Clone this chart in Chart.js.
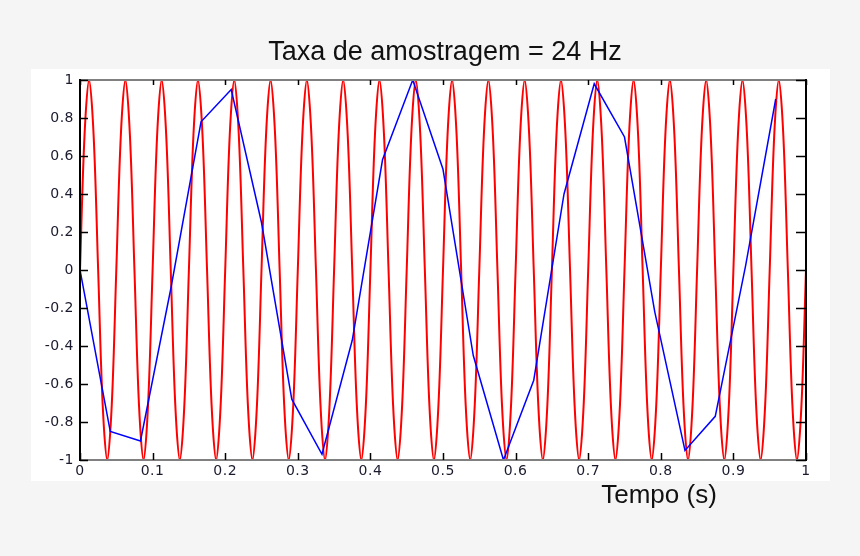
<!DOCTYPE html>
<html>
<head>
<meta charset="utf-8">
<script src="https://cdn.jsdelivr.net/npm/chart.js@4/dist/chart.umd.min.js"></script>
<style>
  html, body { margin: 0; padding: 0; background: #f5f5f5; }
  #wrap { width: 860px; height: 556px; }
</style>
</head>
<body>
<div id="wrap"><canvas id="myChart" width="860" height="556"></canvas></div>
<script>
'use strict'

// texts
const titleText = 'Taxa de amostragem = 24 Hz';
const xTitle = 'Tempo (s)';

// tick labels
const xTicks = [0, 0.1, 0.2, 0.3, 0.4, 0.5, 0.6, 0.7, 0.8, 0.9, 1];
const yTicks = [-1, -0.8, -0.6, -0.4, -0.2, 0, 0.2, 0.4, 0.6, 0.8, 1];

const blueT = [0, 0.0417, 0.0833, 0.125, 0.1667, 0.2083, 0.25, 0.2917,
  0.3333, 0.375, 0.4167, 0.4583, 0.5, 0.5417, 0.5833, 0.625,
  0.6667, 0.7083, 0.75, 0.7917, 0.8333, 0.875, 0.9167, 0.9583];
const blueV = [0, -0.85, -0.9, -0.1, 0.78, 0.95, 0.25, -0.68,
  -0.97, -0.37, 0.58, 1.0, 0.53, -0.45, -1.0, -0.58,
  0.4, 0.98, 0.7, -0.22, -0.95, -0.77, 0.02, 0.9];

// original signal (red), read every 1/8 of a cycle
const redT = [
  0, 0.00625, 0.0125, 0.01875, 0.025, 0.03125, 0.0375, 0.04375,
  0.05, 0.05625, 0.0625, 0.06875, 0.075, 0.08125, 0.0875, 0.09375,
  0.1, 0.10625, 0.1125, 0.11875, 0.125, 0.13125, 0.1375, 0.14375,
  0.15, 0.15625, 0.1625, 0.16875, 0.175, 0.18125, 0.1875, 0.19375,
  0.2, 0.20625, 0.2125, 0.21875, 0.225, 0.23125, 0.2375, 0.24375,
  0.25, 0.25625, 0.2625, 0.26875, 0.275, 0.28125, 0.2875, 0.29375,
  0.3, 0.30625, 0.3125, 0.31875, 0.325, 0.33125, 0.3375, 0.34375,
  0.35, 0.35625, 0.3625, 0.36875, 0.375, 0.38125, 0.3875, 0.39375,
  0.4, 0.40625, 0.4125, 0.41875, 0.425, 0.43125, 0.4375, 0.44375,
  0.45, 0.45625, 0.4625, 0.46875, 0.475, 0.48125, 0.4875, 0.49375,
  0.5, 0.50625, 0.5125, 0.51875, 0.525, 0.53125, 0.5375, 0.54375,
  0.55, 0.55625, 0.5625, 0.56875, 0.575, 0.58125, 0.5875, 0.59375,
  0.6, 0.60625, 0.6125, 0.61875, 0.625, 0.63125, 0.6375, 0.64375,
  0.65, 0.65625, 0.6625, 0.66875, 0.675, 0.68125, 0.6875, 0.69375,
  0.7, 0.70625, 0.7125, 0.71875, 0.725, 0.73125, 0.7375, 0.74375,
  0.75, 0.75625, 0.7625, 0.76875, 0.775, 0.78125, 0.7875, 0.79375,
  0.8, 0.80625, 0.8125, 0.81875, 0.825, 0.83125, 0.8375, 0.84375,
  0.85, 0.85625, 0.8625, 0.86875, 0.875, 0.88125, 0.8875, 0.89375,
  0.9, 0.90625, 0.9125, 0.91875, 0.925, 0.93125, 0.9375, 0.94375,
  0.95, 0.95625, 0.9625, 0.96875, 0.975, 0.98125, 0.9875, 0.99375,
  1
];
const redV = [
  0, 0.71, 1, 0.71, 0, -0.71, -1, -0.71,
  0, 0.71, 1, 0.71, 0, -0.71, -1, -0.71,
  0, 0.71, 1, 0.71, 0, -0.71, -1, -0.71,
  0, 0.71, 1, 0.71, 0, -0.71, -1, -0.71,
  0, 0.71, 1, 0.71, 0, -0.71, -1, -0.71,
  0, 0.71, 1, 0.71, 0, -0.71, -1, -0.71,
  0, 0.71, 1, 0.71, 0, -0.71, -1, -0.71,
  0, 0.71, 1, 0.71, 0, -0.71, -1, -0.71,
  0, 0.71, 1, 0.71, 0, -0.71, -1, -0.71,
  0, 0.71, 1, 0.71, 0, -0.71, -1, -0.71,
  0, 0.71, 1, 0.71, 0, -0.71, -1, -0.71,
  0, 0.71, 1, 0.71, 0, -0.71, -1, -0.71,
  0, 0.71, 1, 0.71, 0, -0.71, -1, -0.71,
  0, 0.71, 1, 0.71, 0, -0.71, -1, -0.71,
  0, 0.71, 1, 0.71, 0, -0.71, -1, -0.71,
  0, 0.71, 1, 0.71, 0, -0.71, -1, -0.71,
  0, 0.71, 1, 0.71, 0, -0.71, -1, -0.71,
  0, 0.71, 1, 0.71, 0, -0.71, -1, -0.71,
  0, 0.71, 1, 0.71, 0, -0.71, -1, -0.71,
  0, 0.71, 1, 0.71, 0, -0.71, -1, -0.71,
  0
];

const toPoints = (ts, vs) => ts.map((t, i) => ({ x: t, y: vs[i] }));

const FONT = "'Liberation Sans', Arial, sans-serif";
const TICKFONT = "'DejaVu Sans', sans-serif";

// white figure panel, frame, inward ticks, titles
const decor = {
  id: 'decor',
  beforeDraw(chart) {
    const ctx = chart.ctx;
    ctx.save();
    ctx.fillStyle = '#f5f5f5';
    ctx.fillRect(0, 0, chart.width, chart.height);
    ctx.fillStyle = '#ffffff';
    ctx.fillRect(31, 69, 799, 412);
    ctx.restore();
    ctx.letterSpacing = '0.5px';
  },
  afterDatasetsDraw(chart) {
    const ctx = chart.ctx;
    const a = chart.chartArea;
    const xs = chart.scales.x, ys = chart.scales.y;
    ctx.save();
    ctx.lineWidth = 2;
    ctx.strokeStyle = '#808080';
    ctx.beginPath();
    ctx.moveTo(a.left, a.top); ctx.lineTo(a.right, a.top);
    ctx.moveTo(a.left, a.bottom); ctx.lineTo(a.right, a.bottom);
    ctx.stroke();
    ctx.strokeStyle = '#000000';
    ctx.beginPath();
    ctx.moveTo(a.left, a.top - 1); ctx.lineTo(a.left, a.bottom + 1);
    ctx.moveTo(a.right, a.top - 1); ctx.lineTo(a.right, a.bottom + 1);
    ctx.stroke();
    ctx.lineWidth = 1.5;
    ctx.beginPath();
    xTicks.forEach(v => {
      const px = Math.round(xs.getPixelForValue(v)) + 0.5;
      ctx.moveTo(px, a.bottom); ctx.lineTo(px, a.bottom - 7);
      ctx.moveTo(px, a.top); ctx.lineTo(px, a.top + 5);
    });
    yTicks.forEach(v => {
      const py = Math.round(ys.getPixelForValue(v)) + 0.5;
      ctx.moveTo(a.left, py); ctx.lineTo(a.left + 8, py);
      ctx.moveTo(a.right, py); ctx.lineTo(a.right - 10, py);
    });
    ctx.stroke();
    ctx.restore();
  },
  afterDraw(chart) {
    const ctx = chart.ctx;
    ctx.letterSpacing = '0px';
    ctx.save();
    ctx.fillStyle = '#111111';
    ctx.font = '27px ' + FONT;
    ctx.textAlign = 'center';
    ctx.textBaseline = 'alphabetic';
    ctx.fillText(titleText, 445, 60);
    ctx.font = '26px ' + FONT;
    ctx.fillText(xTitle, 659, 503);
    ctx.restore();
  }
};

const config = {
  type: 'line',
  data: {
    datasets: [{
      label: 'amostras',
      data: toPoints(blueT, blueV),
      borderColor: '#0000ff',
      borderWidth: 1.5,
      pointRadius: 0,
      tension: 0
    }, {
      label: 'sinal',
      data: toPoints(redT, redV),
      borderColor: '#ff0000',
      borderWidth: 2,
      pointRadius: 0,
      tension: 0.35
    }]
  },
  options: {
    responsive: false,
    animation: false,
    events: [],
    layout: { padding: { left: 0, top: 80, right: 54, bottom: 76 } },
    plugins: {
      legend: { display: false },
      title: { display: false },
      tooltip: { enabled: false }
    },
    scales: {
      x: {
        type: 'linear',
        min: 0,
        max: 1,
        afterBuildTicks: s => { s.ticks = xTicks.map(v => ({ value: v })); },
        afterFit: s => { s.height = 20; },
        grid: { display: false, drawTicks: false },
        border: { display: false },
        ticks: {
          padding: 3,
          color: '#1a1a2e',
          font: { family: TICKFONT, size: 14 },
          maxRotation: 0,
          autoSkip: false,
          callback: v => String(v)
        }
      },
      y: {
        min: -1,
        max: 1,
        afterBuildTicks: s => { s.ticks = yTicks.map(v => ({ value: v })); },
        afterFit: s => { s.width = 80; },
        grid: { display: false, drawTicks: false },
        border: { display: false },
        ticks: {
          padding: 6,
          color: '#1a1a2e',
          font: { family: TICKFONT, size: 14 },
          autoSkip: false,
          callback: v => String(v)
        }
      }
    }
  },
  plugins: [decor]
};

const myChart = new Chart(document.getElementById('myChart'), config);
</script>
</body>
</html>
